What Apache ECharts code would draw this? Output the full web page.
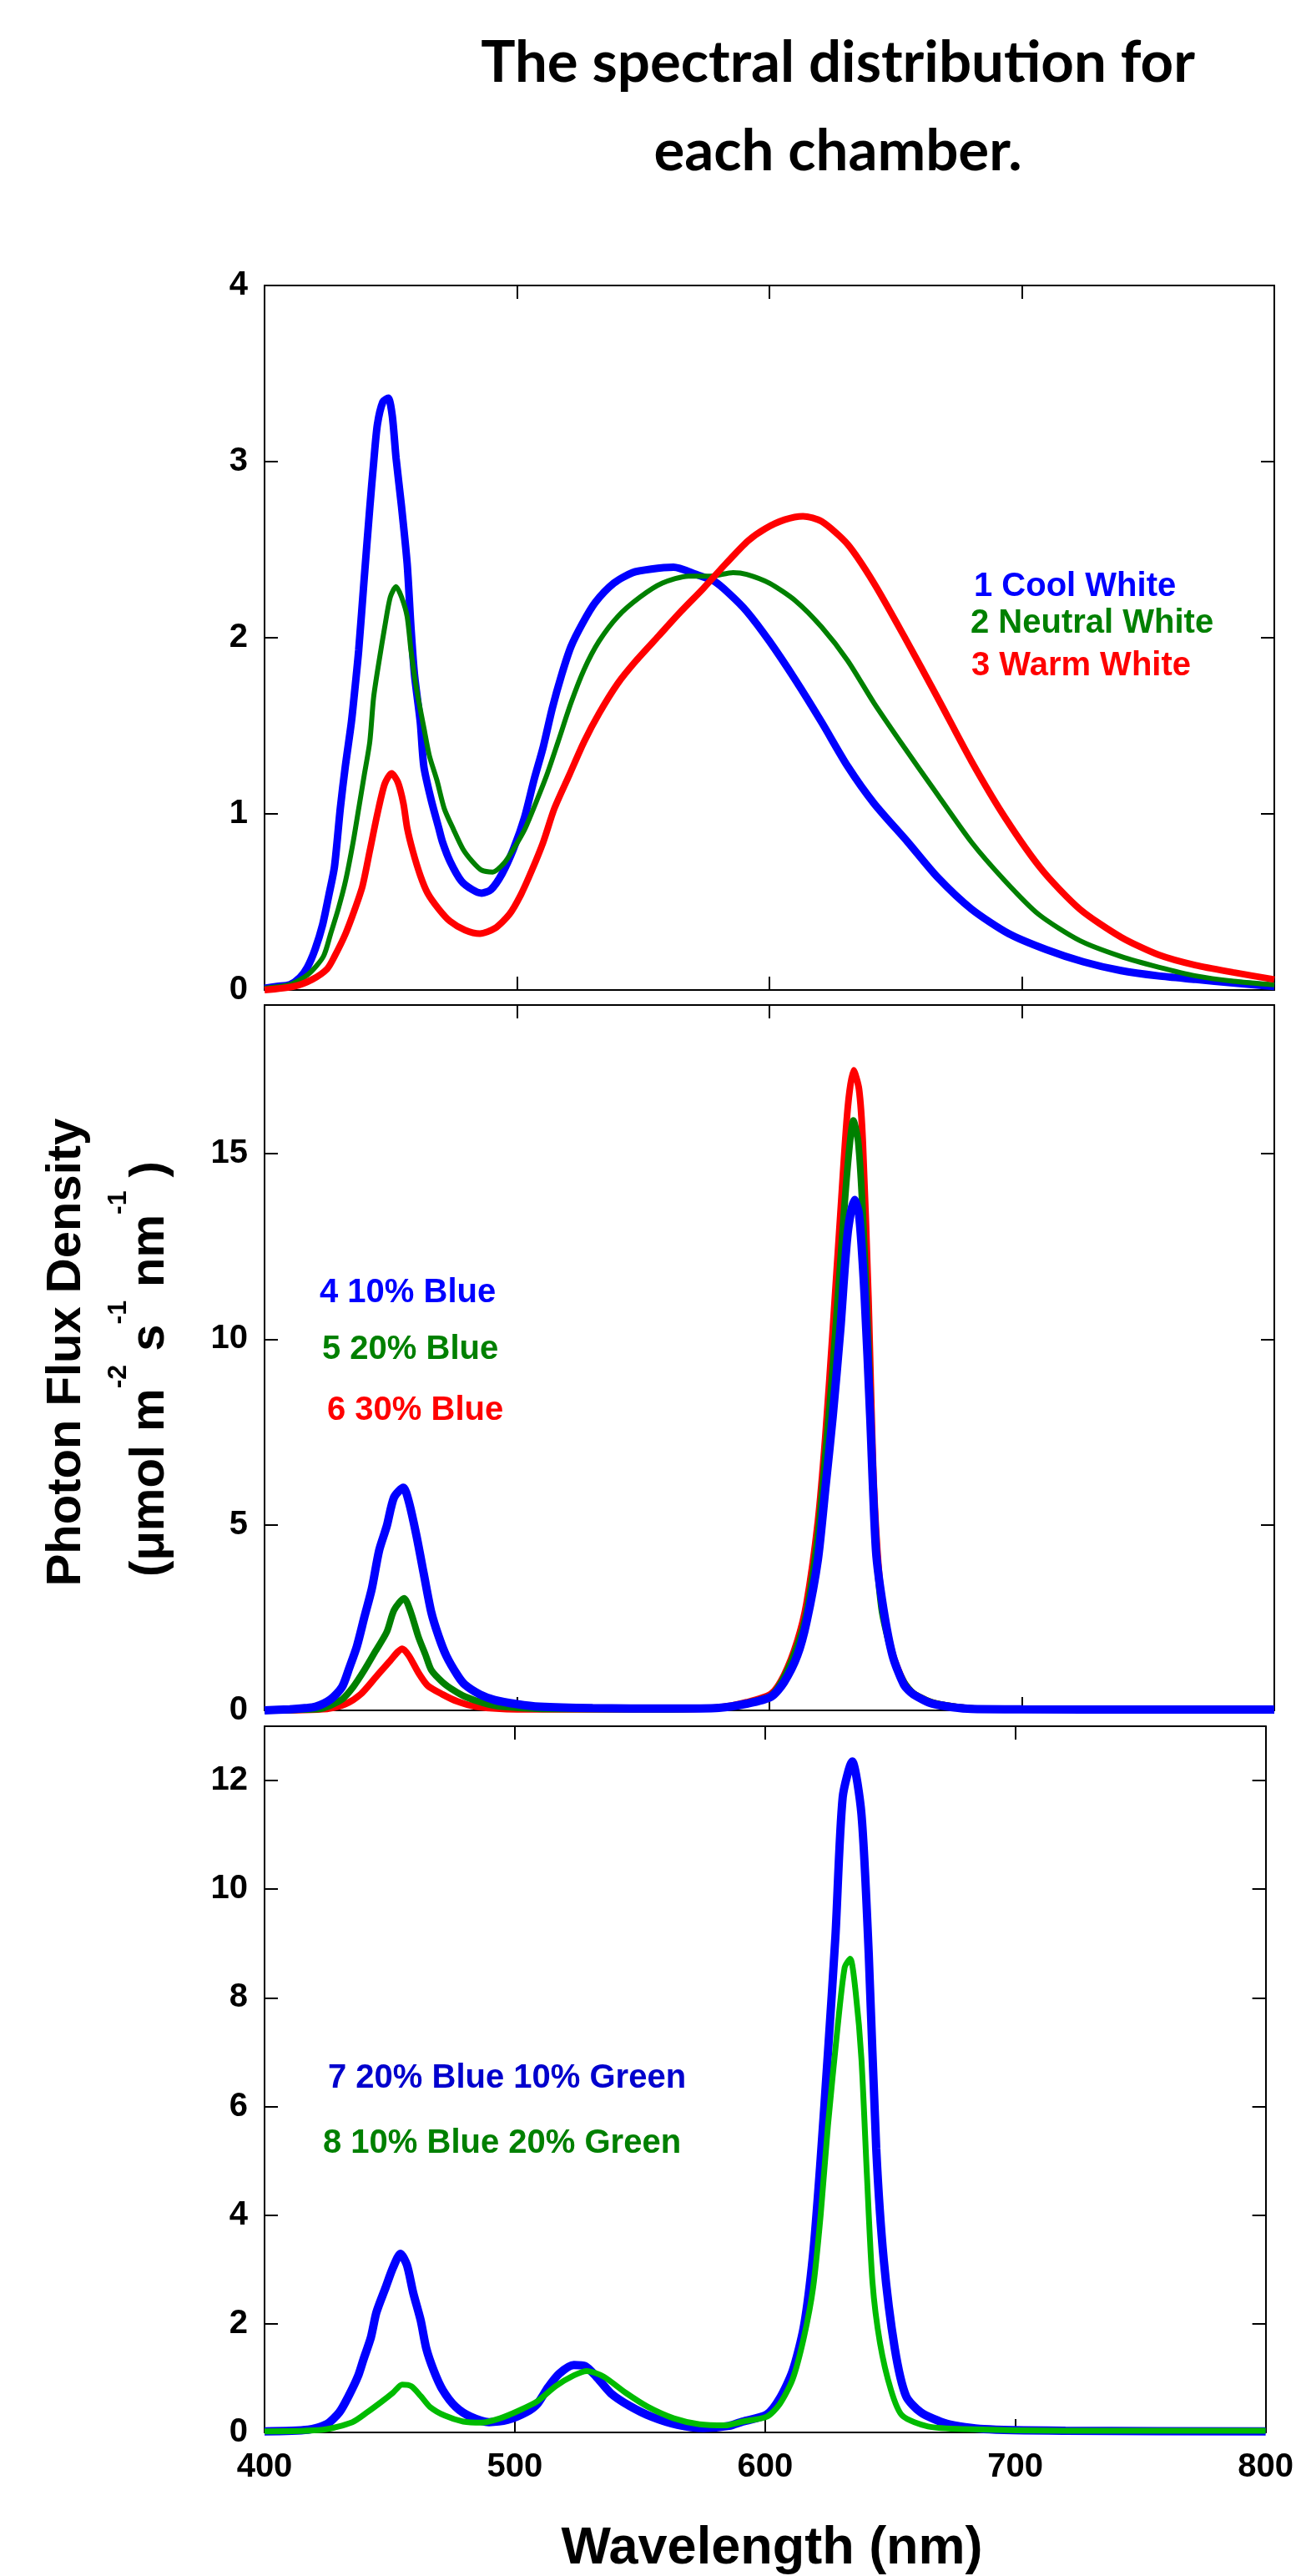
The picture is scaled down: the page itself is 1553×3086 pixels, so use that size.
<!DOCTYPE html>
<html>
<head>
<meta charset="utf-8">
<script src="https://cdn.jsdelivr.net/npm/echarts@6/dist/echarts.min.js"></script>
<style>
html,body{margin:0;padding:0;background:#fff}
#main{width:1553px;height:3086px}
</style>
</head>
<body>
<div id="main"></div>
<script>
// x tick labels (nm)
var wavelengthTicks = [400, 500, 600, 700, 800];

// panel 1 - white LEDs
var coolWhite = [[400,0.01],[405,0.02],[410,0.03],[414,0.07],[417,0.13],[420,0.23],[423,0.37],[425.5,0.54],[427.7,0.70],[430,1.03],[432,1.27],[434.4,1.52],[435.8,1.71],[437.3,1.93],[439.5,2.34],[441.7,2.74],[443.2,2.99],[444.7,3.21],[446.9,3.34],[449,3.36],[450.6,3.26],[452.1,3.02],[454.3,2.74],[456.5,2.42],[458,2.06],[459.4,1.79],[461.7,1.52],[463.1,1.27],[466,1.08],[469,0.92],[470.5,0.84],[473.5,0.73],[477.9,0.62],[482.3,0.57],[486,0.55],[489.7,0.57],[494.1,0.66],[498.6,0.80],[503,0.98],[506.7,1.19],[510.4,1.38],[514,1.60],[517.7,1.79],[521.4,1.95],[525.9,2.08],[531,2.20],[538.4,2.31],[545.8,2.37],[553.2,2.39],[562,2.40],[570.9,2.36],[578.2,2.32],[584.1,2.25],[591,2.15],[600,1.98],[610.3,1.76],[620.7,1.52],[631,1.27],[641.4,1.06],[654.8,0.84],[666.6,0.64],[680,0.46],[694.8,0.32],[709.6,0.23],[724.4,0.16],[739.3,0.11],[754.1,0.08],[768.9,0.06],[783.7,0.04],[800,0.02]];
var neutralWhite = [[400,0.01],[410,0.03],[417.4,0.09],[423.3,0.19],[426.2,0.32],[429.2,0.46],[432.1,0.62],[435.1,0.84],[437.3,1.03],[439.5,1.22],[441.7,1.41],[443.2,1.66],[445.4,1.87],[447.6,2.06],[449.8,2.23],[452.1,2.29],[454.3,2.23],[456.5,2.12],[458,1.93],[460.2,1.71],[463.1,1.49],[465.3,1.33],[468.3,1.19],[471.2,1.03],[474.9,0.91],[478.6,0.80],[482.3,0.73],[486,0.68],[490.4,0.67],[494.9,0.72],[498.6,0.80],[503,0.91],[507.4,1.06],[511.8,1.22],[516.3,1.41],[521.4,1.63],[526.6,1.82],[532.5,1.98],[539.9,2.12],[548.7,2.23],[557.6,2.31],[567.9,2.35],[576.8,2.35],[585.6,2.37],[591,2.36],[600,2.31],[610.3,2.21],[620.7,2.06],[631,1.87],[641.4,1.63],[653.3,1.38],[665.1,1.14],[680,0.84],[693.3,0.62],[706.6,0.43],[723,0.28],[739.3,0.19],[754.1,0.13],[768.9,0.08],[783.7,0.05],[800,0.03]];
var warmWhite = [[400,0.0],[411.5,0.02],[418.9,0.06],[424.8,0.12],[427.7,0.19],[432.1,0.32],[435.8,0.46],[438.8,0.59],[441.7,0.79],[444.7,1.00],[447.6,1.17],[450.3,1.23],[452.8,1.18],[455,1.06],[456.5,0.92],[458.7,0.79],[461.7,0.65],[464.6,0.55],[469,0.46],[473.5,0.39],[479.4,0.34],[485.3,0.32],[491.2,0.35],[497,0.43],[501.5,0.54],[505.9,0.68],[510.4,0.84],[514.8,1.03],[520.7,1.22],[526.6,1.41],[532.5,1.57],[539.9,1.74],[547.2,1.87],[556.1,2.01],[565,2.15],[573.8,2.28],[582.7,2.42],[591.5,2.55],[598.4,2.62],[606,2.67],[613.3,2.69],[620.7,2.66],[631,2.53],[641.4,2.31],[653.3,2.01],[666.6,1.66],[680,1.30],[693.3,0.98],[708.1,0.68],[722.9,0.46],[739.3,0.30],[754.1,0.20],[768.9,0.14],[783.7,0.10],[800,0.06]];

// panel 2 - blue/red
var blue10 = [[400,0.0],[410,0.03],[416,0.06],[420.3,0.1],[426.2,0.3],[430.7,0.63],[433.6,1.15],[436.6,1.73],[439.5,2.5],[442.5,3.28],[445.4,4.31],[448.4,4.96],[451.3,5.74],[455,6.0],[457.2,5.61],[460.2,4.7],[463.1,3.67],[466.1,2.63],[469,1.99],[472,1.47],[476.4,0.95],[479.4,0.69],[485.3,0.43],[491.2,0.28],[500,0.17],[508.9,0.1],[530,0.06],[560,0.05],[580,0.07],[591,0.18],[600.7,0.37],[605.8,0.76],[611,1.47],[614.7,2.38],[619.2,4.06],[622.2,6.0],[625.1,7.93],[628.1,10.26],[631,12.85],[633.7,13.75],[635.5,13.36],[637.7,11.17],[639.9,7.93],[642.2,4.31],[645.1,2.76],[648.8,1.47],[653.3,0.69],[657,0.43],[665.1,0.17],[680,0.04],[700,0.03],[750,0.02],[800,0.02]];
var blue20 = [[400,0.0],[415,0.02],[423.3,0.06],[430.7,0.3],[435.1,0.63],[439.5,1.08],[444,1.6],[448.4,2.11],[451.3,2.7],[455.3,3.02],[458,2.63],[460.9,1.99],[463.9,1.47],[466.1,1.08],[470.5,0.76],[474.9,0.54],[479.4,0.37],[486.7,0.2],[494.1,0.1],[510,0.04],[560,0.03],[580,0.07],[591,0.2],[600.7,0.4],[605.8,0.89],[611,1.73],[614.7,2.63],[619.2,4.7],[622.2,6.9],[625.1,9.23],[628.1,12.07],[631,14.66],[633.3,15.89],[635.2,15.3],[637,13.36],[639.2,9.87],[641.4,5.35],[644.4,2.76],[648.8,1.47],[653.3,0.76],[657,0.46],[665.1,0.2],[680,0.05],[700,0.03],[800,0.02]];
var blue30 = [[400,0.0],[424.8,0.04],[432.1,0.17],[438,0.43],[444,0.89],[449.8,1.34],[454.6,1.66],[457.2,1.47],[460.9,1.02],[464.6,0.67],[470.5,0.43],[476.4,0.24],[483.8,0.1],[500,0.03],[560,0.03],[580,0.08],[591,0.22],[600.7,0.45],[605.8,0.95],[611,1.86],[614.7,2.89],[619.2,5.09],[622.2,7.42],[625.1,10.26],[628.1,13.36],[631,16.21],[633.3,17.24],[635.5,16.73],[637,15.3],[639.2,11.17],[641.4,6.0],[644.4,3.02],[648.8,1.53],[653.3,0.76],[657,0.46],[665.1,0.2],[680,0.05],[700,0.03],[800,0.02]];

// panel 3 - blue/green/red
var blue20green10 = [[400,0.02],[417.4,0.05],[424.8,0.15],[429.9,0.37],[433.6,0.67],[437.3,1.03],[439.5,1.34],[442.5,1.75],[444.7,2.21],[448.4,2.67],[451.3,3.03],[454.3,3.29],[456.9,3.08],[459.4,2.57],[462.4,2.06],[464.6,1.55],[467.6,1.14],[471.2,0.78],[476.4,0.47],[482.3,0.29],[489.7,0.19],[497.1,0.23],[504.5,0.37],[508.9,0.52],[513.3,0.83],[517.7,1.08],[523.6,1.24],[528.1,1.22],[532.5,1.03],[538.4,0.72],[545.8,0.49],[554.6,0.29],[565,0.14],[575.3,0.08],[585.6,0.12],[591,0.2],[600.7,0.33],[605.8,0.62],[611,1.13],[615.5,1.95],[619.2,3.29],[622.2,5.03],[625.1,6.98],[628.1,9.13],[631,11.69],[634.8,12.35],[638.5,11.38],[641.4,8.82],[644.4,5.23],[647.4,3.18],[651.8,1.55],[656.3,0.67],[662.2,0.37],[672.6,0.16],[687.4,0.06],[720,0.03],[800,0.02]];
var blue10green20 = [[400,0.02],[423.3,0.05],[435.1,0.19],[441,0.37],[446.9,0.57],[451.3,0.73],[455,0.88],[458.7,0.85],[462.4,0.67],[466.1,0.47],[472,0.31],[479.4,0.2],[486.7,0.18],[494.1,0.26],[501.5,0.4],[508.9,0.57],[516.3,0.85],[523.6,1.05],[528.8,1.13],[535.4,1.03],[544.3,0.73],[553.2,0.47],[563.5,0.26],[573.8,0.15],[584.1,0.13],[591,0.2],[600.7,0.29],[605.8,0.52],[611,0.98],[615.5,1.75],[619.2,2.67],[622.2,4.0],[625.1,5.64],[628.8,7.38],[631.8,8.56],[634,8.72],[636.2,8.1],[638.5,6.87],[640.7,4.72],[642.9,2.77],[645.9,1.65],[650.3,0.78],[654.8,0.31],[665.1,0.11],[680,0.06],[720,0.03],[800,0.03]];

// y ranges per panel
var yMax = [4, 19, 13];
var yStep = [1, 5, 2];

var FONT = 'Liberation Sans, Arial, sans-serif';
var gridTops = [342, 1204, 2068];
var gridHeights = [844, 845, 846];

var myChart = echarts.init(document.getElementById('main'));

var grids = [], xAxes = [], yAxes = [];
for (var i = 0; i < 3; i++) {
	grids.push({left: 317, width: 1210, top: gridTops[i], height: gridHeights[i]});
	['bottom', 'top'].forEach(function(pos){
		xAxes.push({
			gridIndex: i, type: 'value', position: pos,
			min: wavelengthTicks[0], max: wavelengthTicks[wavelengthTicks.length - 1], interval: 100,
			axisLine: {show: true, onZero: false, lineStyle: {color: '#000', width: 2}},
			axisTick: {show: true, inside: true, length: 16, lineStyle: {color: '#000', width: 2}},
			axisLabel: {show: (i == 2 && pos == 'bottom'), margin: 22, color: '#000', fontSize: 40, fontWeight: 'bold', fontFamily: FONT},
			splitLine: {show: false}
		});
	});
	['left', 'right'].forEach(function(pos){
		yAxes.push({
			gridIndex: i, type: 'value', position: pos,
			min: 0, max: yMax[i], interval: yStep[i],
			axisLine: {show: true, onZero: false, lineStyle: {color: '#000', width: 2}},
			axisTick: {show: true, inside: true, length: 16, lineStyle: {color: '#000', width: 2}},
			axisLabel: {show: pos == 'left', showMaxLabel: i == 0, margin: 20, color: '#000', fontSize: 40, fontWeight: 'bold', fontFamily: FONT},
			splitLine: {show: false}
		});
	});
}

function line(name, data, panel, color, width) {
	return {
		name: name, type: 'line', data: data,
		xAxisIndex: panel * 2, yAxisIndex: panel * 2,
		showSymbol: false, symbol: 'none', smooth: 0.25,
		lineStyle: {color: color, width: width},
		emphasis: {disabled: true}
	};
}

function label(text, x, y, color, size) {
	return {
		type: 'text', x: x, y: y,
		style: {text: text, fill: color, fontSize: size, fontWeight: 'bold', fontFamily: FONT, textAlign: 'left', verticalAlign: 'middle'}
	};
}

var option = {
	animation: false,
	backgroundColor: '#fff',
	grid: grids,
	xAxis: xAxes,
	yAxis: yAxes,
	series: [
		line('1 Cool White', coolWhite, 0, '#0000FF', 9),
		line('2 Neutral White', neutralWhite, 0, '#008000', 6),
		line('3 Warm White', warmWhite, 0, '#FF0000', 8),
		line('6 30% Blue', blue30, 1, '#FF0000', 8),
		line('5 20% Blue', blue20, 1, '#008000', 8),
		line('4 10% Blue', blue10, 1, '#0000FF', 10),
		line('7 20% Blue 10% Green', blue20green10, 2, '#0000FF', 10),
		line('8 10% Blue 20% Green', blue10green20, 2, '#00BB00', 7)
	],
	graphic: [
		{type: 'text', x: 1004, y: 76, style: {text: 'The spectral distribution for', fill: '#000', fontSize: 69, fontWeight: 'bold', fontFamily: 'Lato, sans-serif', textAlign: 'center', verticalAlign: 'middle'}},
		{type: 'text', x: 1004, y: 182, style: {text: 'each chamber.', fill: '#000', fontSize: 69, fontWeight: 'bold', fontFamily: 'Lato, sans-serif', textAlign: 'center', verticalAlign: 'middle'}},
		label('1 Cool White', 1167, 703, '#0000FF', 40),
		label('2 Neutral White', 1163, 747, '#008000', 40),
		label('3 Warm White', 1164, 798, '#FF0000', 40),
		label('4 10% Blue', 383, 1549, '#0000FF', 40),
		label('5 20% Blue', 386, 1617, '#008000', 40),
		label('6 30% Blue', 392, 1690, '#FF0000', 40),
		label('7 20% Blue 10% Green', 393, 2490, '#0000CD', 40),
		label('8 10% Blue 20% Green', 387, 2568, '#008000', 40),
		{type: 'text', x: 80, y: 1620, rotation: Math.PI / 2,
			style: {text: 'Photon Flux Density', fill: '#000', fontSize: 58, fontWeight: 'bold', fontFamily: FONT, textAlign: 'center', verticalAlign: 'middle'}},
		{type: 'text', x: 180, y: 1640, rotation: Math.PI / 2,
			style: {
				text: '{m|(\u03bcmol m}{s|-2}{m| s}{s|-1}{m| nm}{s|-1}{m| )}',
				fill: '#000', fontSize: 58, fontWeight: 'bold', fontFamily: FONT, textAlign: 'center', verticalAlign: 'middle',
				rich: {
					m: {fontSize: 58, fontWeight: 'bold', fontFamily: FONT, lineHeight: 108, verticalAlign: 'middle', fill: '#000'},
					s: {fontSize: 32, fontWeight: 'bold', fontFamily: FONT, lineHeight: 32, verticalAlign: 'top', fill: '#000'}
				}
			}},
		{type: 'text', x: 925, y: 3054, style: {text: 'Wavelength (nm)', fill: '#000', fontSize: 63, fontWeight: 'bold', fontFamily: FONT, textAlign: 'center', verticalAlign: 'middle'}}
	]
};
myChart.setOption(option);
</script>
</body>
</html>
